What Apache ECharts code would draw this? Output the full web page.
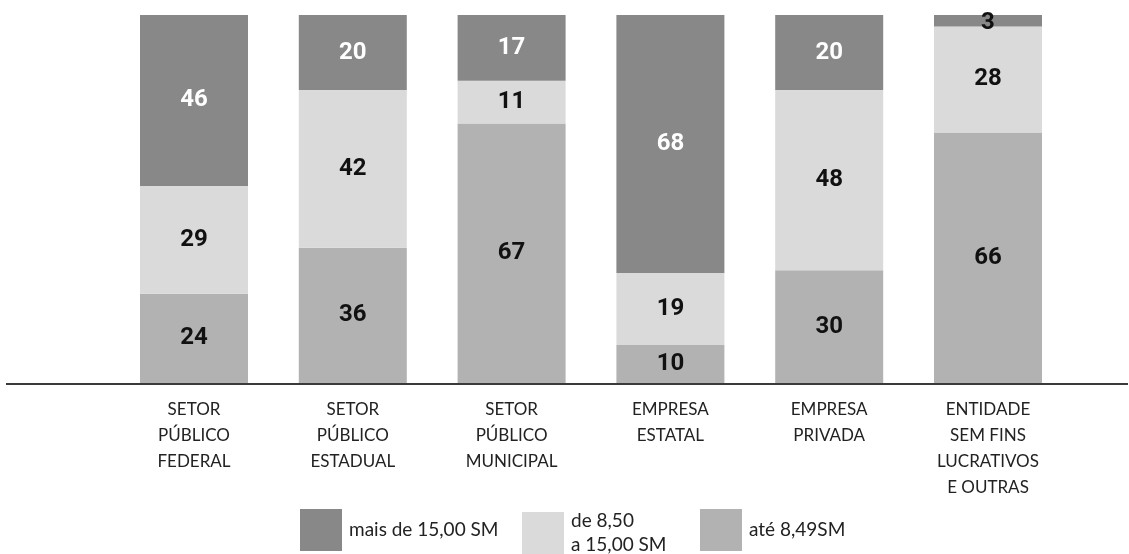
<!DOCTYPE html>
<html><head><meta charset="utf-8">
<script src="https://cdn.jsdelivr.net/npm/echarts@6/dist/echarts.min.js"></script>
<style>html,body{margin:0;padding:0;background:#fff}#c{width:1129px;height:554px}</style>
</head><body><div id="c"></div>
<script>
const categories = ['SETOR\nPÚBLICO\nFEDERAL','SETOR\nPÚBLICO\nESTADUAL','SETOR\nPÚBLICO\nMUNICIPAL','EMPRESA\nESTATAL','EMPRESA\nPRIVADA','ENTIDADE\nSEM FINS\nLUCRATIVOS\nE OUTRAS'];
const seriesNames = ['mais de 15,00 SM', 'de 8,50\na 15,00 SM', 'até 8,49SM'];
const mais15 = [46, 20, 17, 68, 20, 3];
const de850 = [29, 42, 11, 19, 48, 28];
const ate849 = [24, 36, 67, 10, 30, 66];

const totals = categories.map((_, i) => mais15[i] + de850[i] + ate849[i]);

const chart = echarts.init(document.getElementById('c'), null, { renderer: 'canvas' });
const labelFont = { fontFamily: 'Roboto', fontWeight: 'bold', fontSize: 24 };
function mk(name, arr, color, labelColor) {
  return {
    name, type: 'bar', stack: 'a', barWidth: 108,
    data: arr.map((v, i) => {
      const item = { value: v / totals[i] * 100, raw: v };
      // labels too big for their segment are drawn in black, as in the reference
      if (v < 5) item.label = { color: '#111', offset: [0, 2] };
      return item;
    }),
    itemStyle: { color },
    label: { show: true, position: 'inside', color: labelColor, ...labelFont, formatter: p => p.data.raw },
    emphasis: { disabled: true }
  };
}
const legendText = { fontFamily: 'Lato', fontSize: 19, color: '#222', lineHeight: 24, padding: [0, 0, 0, 2] };
const legendBase = { top: 509, itemWidth: 42, itemHeight: 42, itemGap: 0, padding: 0, icon: 'rect', textStyle: legendText, selectedMode: false };
chart.setOption({
  animation: false,
  grid: { left: 114.6, right: 61.6, top: 15, bottom: 171 },
  xAxis: {
    type: 'category', data: categories,
    axisLine: { show: false }, axisTick: { show: false },
    axisLabel: { margin: 14, color: '#222', fontFamily: 'Lato', fontSize: 17, lineHeight: 26, interval: 0, verticalAlign: 'top' }
  },
  yAxis: { type: 'value', min: 0, max: 100, show: false, splitLine: { show: false } },
  legend: [
    { ...legendBase, data: [seriesNames[0]], left: 300 },
    { ...legendBase, data: [seriesNames[1]], left: 522 },
    { ...legendBase, data: [seriesNames[2]], left: 700 }
  ],
  graphic: [{
    type: 'line', z: -1, shape: { x1: 6, y1: 384, x2: 1128, y2: 384 },
    style: { stroke: '#3a3a3a', lineWidth: 2 }
  }],
  series: [
    mk(seriesNames[2], ate849, '#b2b2b2', '#111'),
    mk(seriesNames[1], de850, '#dadada', '#111'),
    mk(seriesNames[0], mais15, '#888888', '#fff')
  ]
});
</script></body></html>
